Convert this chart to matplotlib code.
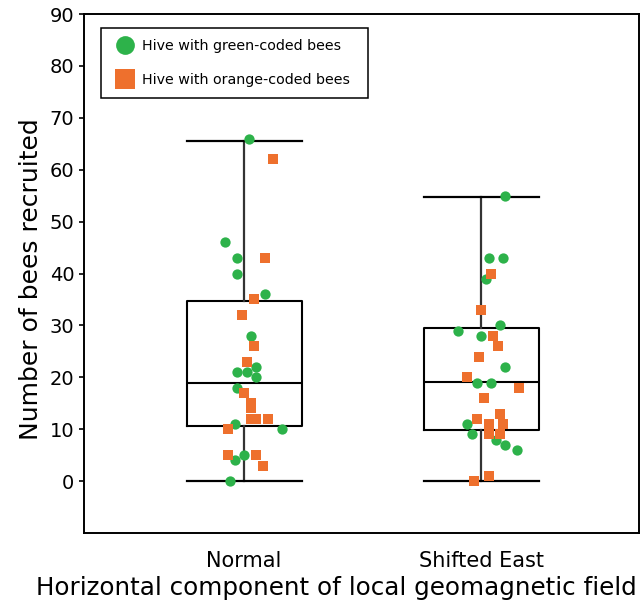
import numpy as np
import matplotlib
matplotlib.use("Agg")
import matplotlib.pyplot as plt
from matplotlib.lines import Line2D

GREEN = "#2DB24A"
ORANGE = "#EE702D"

groups = ["Normal", "Shifted East"]
yticks = [0, 10, 20, 30, 40, 50, 60, 70, 80, 90]

# box stats (whiskers = min / max)
whislo = [0.0, 0.0]
q1 = [10.6, 9.8]
med = [19.0, 19.1]
q3 = [34.8, 29.5]
whishi = [65.6, 54.7]

# points: value and horizontal jitter (fraction of group spacing)
normal_green = [66, 46, 43, 40, 36, 28, 22, 21, 21, 20, 18, 11, 10, 5, 4, 0]
normal_green_dx = [0.02, -0.08, -0.03, -0.03, 0.09, 0.03, 0.05, -0.03, 0.01, 0.05, -0.03, -0.04, 0.16, 0.0, -0.04, -0.06]
normal_orange = [62, 43, 35, 32, 26, 23, 17, 15, 14, 12, 12, 12, 10, 5, 5, 3]
normal_orange_dx = [0.12, 0.09, 0.04, -0.01, 0.04, 0.01, 0.0, 0.03, 0.03, 0.03, 0.05, 0.1, -0.07, -0.07, 0.05, 0.08]

shifted_green = [55, 43, 43, 39, 30, 29, 28, 22, 19, 19, 11, 9, 8, 7, 6]
shifted_green_dx = [0.1, 0.03, 0.09, 0.02, 0.08, -0.1, 0.0, 0.1, -0.02, 0.04, -0.06, -0.04, 0.06, 0.1, 0.15]
shifted_orange = [40, 33, 28, 26, 24, 20, 18, 16, 13, 12, 11, 11, 9, 9, 1, 0]
shifted_orange_dx = [0.04, 0.0, 0.05, 0.07, -0.01, -0.06, 0.16, 0.01, 0.08, -0.02, 0.03, 0.09, 0.03, 0.08, 0.03, -0.03]

plt.rcParams["font.family"] = "DejaVu Sans"

fig = plt.figure(figsize=(6.44, 6.15), dpi=100)
ax = fig.add_axes([0.1304, 0.1333, 0.8618, 0.8439])

stats = []
for i, g in enumerate(groups):
    stats.append({"label": g, "whislo": whislo[i], "q1": q1[i], "med": med[i],
                  "q3": q3[i], "whishi": whishi[i], "fliers": []})

ax.bxp(stats, positions=[0, 1], widths=0.485, capwidths=0.485, showfliers=False,
       boxprops=dict(color="black", linewidth=1.5),
       medianprops=dict(color="black", linewidth=1.5),
       whiskerprops=dict(color="#333333", linewidth=1.6),
       capprops=dict(color="black", linewidth=1.6),
       zorder=1)

pts = [
    (0, normal_green, normal_green_dx, GREEN, "o"),
    (0, normal_orange, normal_orange_dx, ORANGE, "s"),
    (1, shifted_green, shifted_green_dx, GREEN, "o"),
    (1, shifted_orange, shifted_orange_dx, ORANGE, "s"),
]
for pos, vals, dx, col, mk in pts:
    x = pos + np.array(dx)
    ax.scatter(x, vals, s=55, c=col, marker=mk, linewidths=0, zorder=3)

ax.set_xlim(-0.675, 1.664)
ax.set_ylim(-10, 90)
ax.set_yticks(yticks)
ax.set_xticks([0, 1])
ax.set_xticklabels(groups)
ax.tick_params(axis="x", length=0, pad=13, labelsize=15)
ax.tick_params(axis="y", length=3.6, width=1.2, pad=3.4, labelsize=14)
for sp in ax.spines.values():
    sp.set_linewidth(1.4)
    sp.set_color("black")

ax.set_xlabel("Horizontal component of local geomagnetic field", fontsize=17.7)
ax.xaxis.set_label_coords(0.455, -0.083)
ax.set_ylabel("Number of bees recruited", fontsize=18)
ax.yaxis.set_label_coords(-0.074, 0.489)

handles = [
    Line2D([], [], marker="o", color=GREEN, linestyle="none", markersize=13.5, markeredgewidth=0),
    Line2D([], [], marker="s", color=ORANGE, linestyle="none", markersize=14.5, markeredgewidth=0),
]
leg = ax.legend(handles, ["Hive with green-coded bees", "Hive with orange-coded bees"],
                loc="upper left", bbox_to_anchor=(0.0306, 0.0, 0.481, 0.973), mode="expand",
                borderaxespad=0, fontsize=10.3, fancybox=False, framealpha=1,
                edgecolor="black", borderpad=0.75, labelspacing=1.4,
                handlelength=1.8, handletextpad=0.3)
leg.get_frame().set_linewidth(1.1)

fig.savefig("out.png", dpi=100)
